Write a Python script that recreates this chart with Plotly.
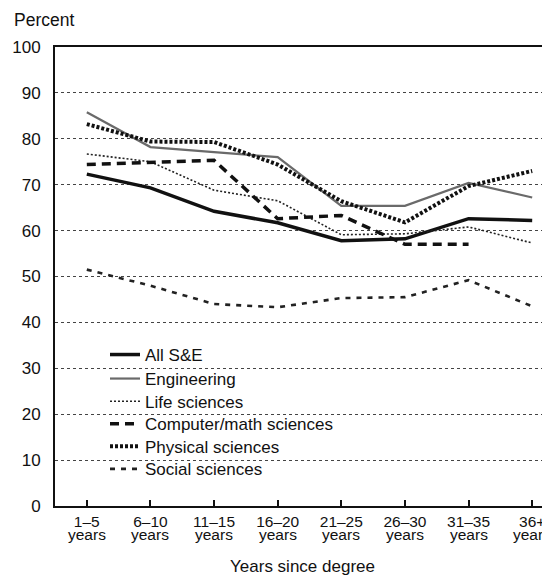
import plotly.graph_objects as go

categories = ["1–5", "6–10", "11–15", "16–20", "21–25", "26–30", "31–35", "36+"]
category_unit = "years"

all_se = [72.3, 69.3, 64.2, 61.7, 57.8, 58.2, 62.6, 62.2]
engineering = [85.8, 78.2, 77.1, 76.0, 65.4, 65.4, 70.4, 67.2]
life_sci = [76.7, 75.0, 68.8, 66.5, 59.1, 59.3, 60.8, 57.3]
comp_math = [74.4, 74.9, 75.3, 62.6, 63.3, 57.0, 57.0, None]
physical = [83.2, 79.4, 79.3, 74.4, 66.4, 61.8, 69.7, 73.0]
social = [51.5, 48.0, 44.0, 43.3, 45.3, 45.5, 49.2, 43.5]

y_ticks = [0, 10, 20, 30, 40, 50, 60, 70, 80, 90, 100]

FONT = "Liberation Sans"

series = [
    ("All S&E", all_se, dict(color="#111111", width=3.5, dash="solid")),
    ("Engineering", engineering, dict(color="#6a6a6a", width=2.2, dash="solid")),
    ("Life sciences", life_sci, dict(color="#222222", width=1.6, dash="2px,2px")),
    ("Computer/math sciences", comp_math, dict(color="#111111", width=3.5, dash="9px,6px")),
    ("Physical sciences", physical, dict(color="#111111", width=4, dash="3px,2px")),
    ("Social sciences", social, dict(color="#222222", width=2.6, dash="5px,6px")),
]

# vertical centre of each legend row (paper coords)
legend_rows = [0.329, 0.2767, 0.2272, 0.178, 0.1292, 0.080]
legend_ids = ["legend", "legend2", "legend3", "legend4", "legend5", "legend6"]

fig = go.Figure()
x_idx = list(range(len(categories)))
for i, (name, vals, line) in enumerate(series):
    fig.add_trace(go.Scatter(
        x=x_idx, y=vals, mode="lines", name=name, line=line,
        legend=legend_ids[i], connectgaps=False,
    ))

legend_layout = {}
for lid, yrow in zip(legend_ids, legend_rows):
    legend_layout[lid] = dict(
        x=0.101, y=yrow, xanchor="left", yanchor="middle",
        bgcolor="rgba(0,0,0,0)", borderwidth=0,
        font=dict(family=FONT, size=17, color="#111111"),
        itemwidth=30,
    )

fig.update_layout(
    width=542, height=568,
    margin=dict(l=47, r=0, t=39, b=70, autoexpand=False),
    paper_bgcolor="white", plot_bgcolor="white",
    font=dict(family=FONT, size=15, color="#111111"),
    showlegend=True,
    **legend_layout,
    xaxis=dict(
        range=[-0.5, 7.28], automargin=False,
        tickmode="array", tickvals=x_idx, ticktext=categories,
        ticks="inside", ticklen=6, tickwidth=1.5, tickcolor="#111111",
        ticklabeloverflow="allow",
        showline=True, linecolor="#111111", linewidth=2, mirror=True,
        showgrid=False, zeroline=False,
        tickfont=dict(family=FONT, size=15.5),
        title=dict(text="Years since degree", font=dict(family=FONT, size=17), standoff=32),
    ),
    yaxis=dict(
        range=[0, 100], automargin=False,
        tickmode="array", tickvals=y_ticks,
        ticks="", showline=True, linecolor="#111111", linewidth=2,
        showgrid=True, gridcolor="#444444", gridwidth=1, griddash="dot",
        zeroline=False,
        tickfont=dict(family=FONT, size=17),
        ticklabelstandoff=9,
    ),
)

for i in x_idx:
    fig.add_annotation(
        text=category_unit, xref="x", yref="paper", x=i, y=-0.063,
        xanchor="center", yanchor="middle", showarrow=False,
        font=dict(family=FONT, size=15.5, color="#111111"),
    )

fig.add_annotation(
    text="Percent", xref="paper", yref="paper", x=-0.087, y=1.059,
    xanchor="left", yanchor="middle", showarrow=False,
    font=dict(family=FONT, size=17.5, color="#111111"),
)

fig.write_html("out.html")
